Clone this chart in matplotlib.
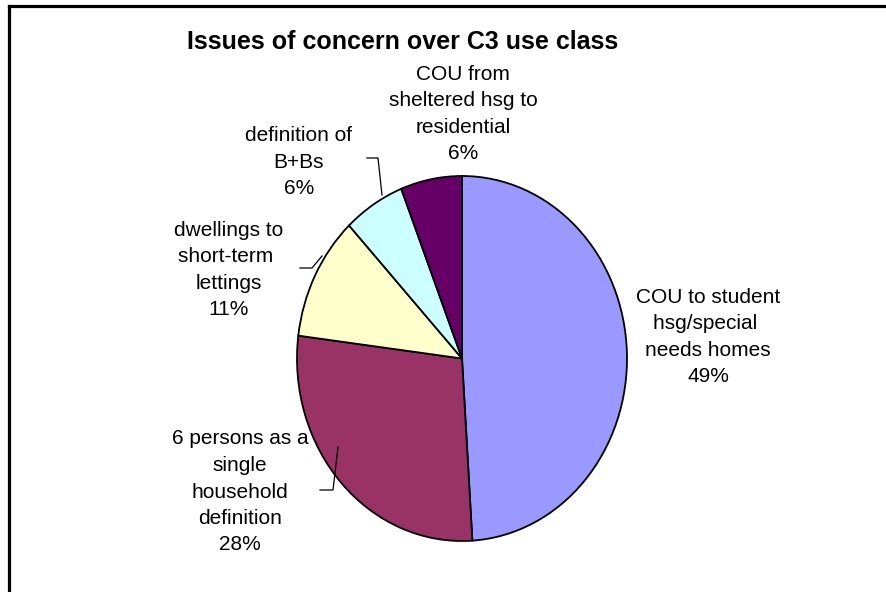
import matplotlib
matplotlib.use("Agg")
import matplotlib.pyplot as plt
from matplotlib.lines import Line2D

# ---- data ----
categories = [
    "COU to student\nhsg/special \nneeds homes",
    "6 persons as a\nsingle\nhousehold\ndefinition",
    "dwellings to\nshort-term \nlettings",
    "definition of\nB+Bs",
    "COU from\nsheltered hsg to\nresidential",
]
values = [49, 28, 11, 6, 6]
colors = ["#9999FF", "#993366", "#FFFFCC", "#CCFFFF", "#660066"]
title = "Issues of concern over C3 use class"

# ---- layout (pixel positions) ----
W, H = 886, 592
label_pos = [(708, 337), (240, 492), (229, 270), (299, 162), (463, 114)]
leaders = [
    None,
    [(320, 490), (333, 490), (338, 447)],
    [(300, 268), (312, 268), (322, 256)],
    [(367, 158), (378, 158), (382, 195)],
    None,
]

plt.rcParams['font.family'] = ['Liberation Sans', 'DejaVu Sans']
fig = plt.figure(figsize=(W / 100, H / 100), dpi=100)
fig.patch.set_facecolor("white")

cx, cy, rx, ry = 462, 358.5, 165, 182.5
ax = fig.add_axes([(cx - rx) / W, 1 - (cy + ry) / H, 2 * rx / W, 2 * ry / H])
ax.pie(values, colors=colors, startangle=90, counterclock=False, radius=1,
       wedgeprops=dict(edgecolor="black", linewidth=1.3))
ax.set_xlim(-1, 1)
ax.set_ylim(-1, 1)
ax.set_aspect("auto")
ax.axis("off")

ov = fig.add_axes([0, 0, 1, 1])
ov.set_xlim(0, W)
ov.set_ylim(H, 0)
ov.axis("off")
ov.patch.set_alpha(0)

total = sum(values)
for cat, v, (x, y), ld in zip(categories, values, label_pos, leaders):
    ov.text(x, y, f"{cat}\n{v / total * 100:.0f}%", ha="center", va="center",
            fontsize=15, linespacing=1.5, color="black")
    if ld:
        xs, ys = zip(*ld)
        ov.plot(xs, ys, color="black", lw=0.9, solid_joinstyle="miter")

ov.text(403, 42, title, ha="center", va="center", fontsize=18, fontweight="bold")

# frame lines (left and top)
ov.add_line(Line2D([9, 9], [5.8, H], color="black", lw=2.3))
ov.add_line(Line2D([9, W], [5.8, 5.8], color="black", lw=2.3))

fig.savefig("out.png", dpi=100)
